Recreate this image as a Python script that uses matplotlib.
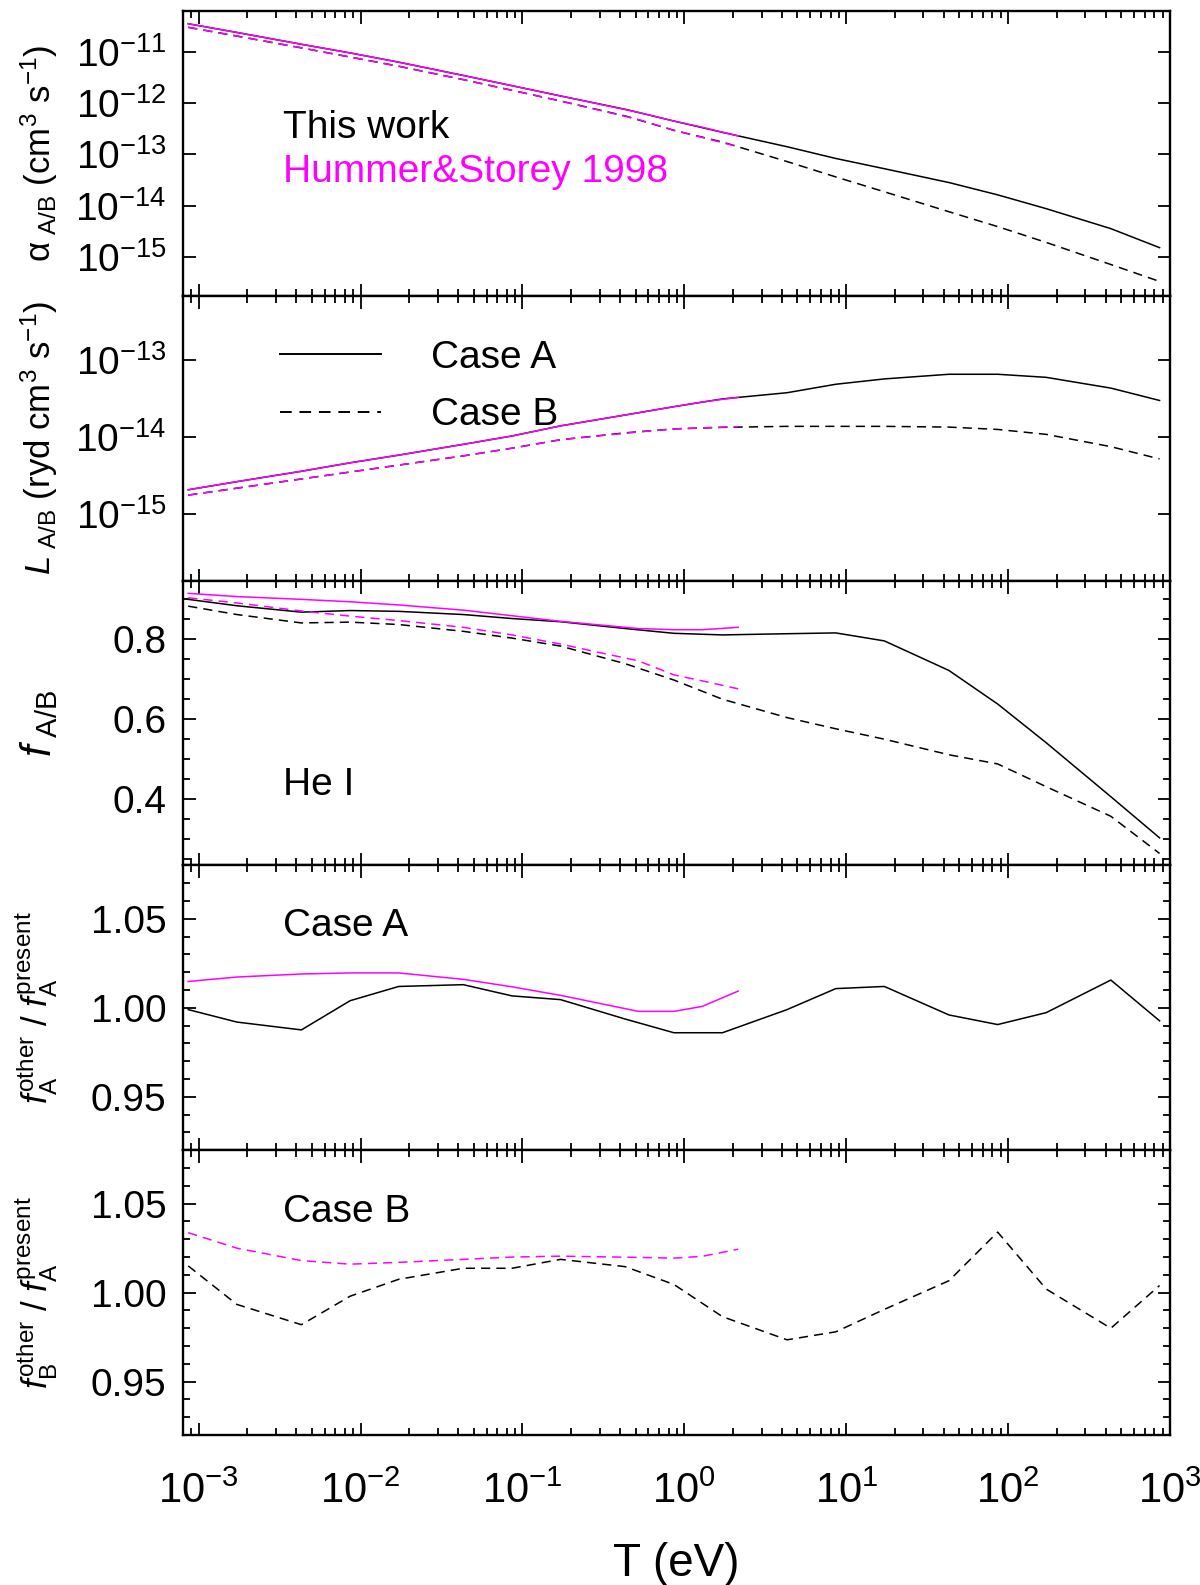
import matplotlib
matplotlib.use('Agg')
import matplotlib.pyplot as plt
from matplotlib.ticker import LogLocator, FixedLocator, MultipleLocator, NullLocator, FormatStrFormatter
from matplotlib.lines import Line2D

plt.rcParams['font.family'] = ['Liberation Sans', 'DejaVu Sans']
plt.rcParams['mathtext.fontset'] = 'custom'
plt.rcParams['mathtext.rm'] = 'Liberation Sans'
plt.rcParams['mathtext.it'] = 'Liberation Sans:italic'
plt.rcParams['mathtext.bf'] = 'Liberation Sans:bold'

# temperature grid (eV), this work: 10 K ... 1e7 K
t_ev = [8.62e-4, 1.72e-3, 4.31e-3, 8.62e-3, 1.72e-2, 4.31e-2, 8.62e-2, 0.172,
        0.431, 0.862, 1.72, 4.31, 8.62, 17.2, 43.1, 86.2, 172, 431, 862]
# Hummer & Storey 1998 grid (eV)
t_hs = [8.62e-4, 1.72e-3, 4.31e-3, 8.62e-3, 1.72e-2, 4.31e-2, 8.62e-2, 0.172,
        0.52, 0.862, 1.29, 2.15]

# recombination coefficients (cm^3 s^-1)
alpha_a = [3.55e-11, 2.40e-11, 1.41e-11, 9.55e-12, 6.31e-12, 3.47e-12, 2.19e-12, 1.38e-12,
           7.59e-13, 4.47e-13, 2.69e-13, 1.41e-13, 8.32e-14, 5.25e-14, 2.82e-14, 1.62e-14,
           8.71e-15, 3.55e-15, 1.51e-15]
alpha_b = [3.02e-11, 2.04e-11, 1.20e-11, 7.94e-12, 5.25e-12, 2.88e-12, 1.78e-12, 1.10e-12,
           5.62e-13, 2.95e-13, 1.74e-13, 7.24e-14, 3.63e-14, 1.86e-14, 7.59e-15, 3.89e-15,
           1.91e-15, 7.08e-16, 3.31e-16]
alpha_a_hs = [3.55e-11, 2.40e-11, 1.41e-11, 9.55e-12, 6.31e-12, 3.47e-12, 2.19e-12, 1.38e-12,
              6.60e-13, 4.47e-13, 3.39e-13, 2.29e-13]
alpha_b_hs = [3.02e-11, 2.04e-11, 1.20e-11, 7.94e-12, 5.25e-12, 2.88e-12, 1.78e-12, 1.10e-12,
              4.80e-13, 2.95e-13, 2.14e-13, 1.41e-13]

# cooling (ryd cm^3 s^-1)
lum_a = [2.04e-15, 2.60e-15, 3.55e-15, 4.57e-15, 5.75e-15, 7.94e-15, 1.02e-14, 1.38e-14,
         1.91e-14, 2.45e-14, 3.09e-14, 3.72e-14, 4.79e-14, 5.62e-14, 6.46e-14, 6.46e-14,
         5.89e-14, 4.27e-14, 2.95e-14]
lum_b = [1.74e-15, 2.14e-15, 2.82e-15, 3.47e-15, 4.27e-15, 5.62e-15, 7.08e-15, 9.12e-15,
         1.12e-14, 1.26e-14, 1.32e-14, 1.36e-14, 1.36e-14, 1.36e-14, 1.33e-14, 1.24e-14,
         1.07e-14, 7.41e-15, 5.13e-15]
lum_a_hs = [2.04e-15, 2.60e-15, 3.55e-15, 4.57e-15, 5.75e-15, 7.94e-15, 1.02e-14, 1.38e-14,
            2.04e-14, 2.45e-14, 2.82e-14, 3.24e-14]
lum_b_hs = [1.74e-15, 2.14e-15, 2.82e-15, 3.47e-15, 4.27e-15, 5.62e-15, 7.08e-15, 9.12e-15,
            1.15e-14, 1.26e-14, 1.30e-14, 1.35e-14]

# f factors
f_a = [0.899, 0.883, 0.867, 0.871, 0.869, 0.861, 0.851, 0.843, 0.826, 0.814, 0.810, 0.813,
       0.815, 0.795, 0.721, 0.637, 0.540, 0.405, 0.302]
f_b = [0.882, 0.861, 0.840, 0.842, 0.836, 0.819, 0.802, 0.782, 0.738, 0.697, 0.649, 0.603,
       0.575, 0.549, 0.510, 0.487, 0.430, 0.356, 0.263]
f_a_hs = [0.914, 0.906, 0.899, 0.893, 0.885, 0.872, 0.858, 0.844, 0.826, 0.823, 0.823, 0.829]
f_b_hs = [0.903, 0.890, 0.870, 0.857, 0.846, 0.829, 0.810, 0.787, 0.745, 0.710, 0.695, 0.675]

# ratios other / present
ratio_a = [0.999, 0.992, 0.9876, 1.004, 1.012, 1.013, 1.0067, 1.0046, 0.9937, 0.986, 0.986,
           0.999, 1.0108, 1.012, 0.996, 0.9906, 0.9973, 1.0156, 0.9927]
ratio_b = [1.015, 0.9934, 0.982, 0.998, 1.0075, 1.0137, 1.0137, 1.0187, 1.0146, 1.0046, 0.9865,
           0.9735, 0.978, 0.9906, 1.0067, 1.034, 1.002, 0.980, 1.004]
ratio_a_hs = [1.0148, 1.0173, 1.019, 1.0196, 1.0196, 1.016, 1.0118, 1.0070, 0.998, 0.998,
              1.0008, 1.0094]
ratio_b_hs = [1.0337, 1.025, 1.018, 1.016, 1.017, 1.0187, 1.020, 1.0205, 1.0198, 1.0194,
              1.0204, 1.0244]

# tick values
x_decades = [1e-3, 1e-2, 1e-1, 1e0, 1e1, 1e2, 1e3]
alpha_ticks = [1e-15, 1e-14, 1e-13, 1e-12, 1e-11]
lum_ticks = [1e-15, 1e-14, 1e-13]
f_ticks = [0.4, 0.6, 0.8]
ratio_ticks = [0.95, 1.00, 1.05]

MAG = '#ff00ff'
DASH = (0, (6, 4))
LW = 1.1

fig, axs = plt.subplots(5, 1, sharex=True, figsize=(12, 15.85), dpi=100)
fig.subplots_adjust(left=0.1525, right=0.975, top=0.9931, bottom=0.0946, hspace=0)

for ax in axs:
    ax.set_xscale('log')
    ax.set_xlim(8e-4, 1e3)
    ax.xaxis.set_major_locator(FixedLocator(x_decades))
    ax.xaxis.set_minor_locator(LogLocator(base=10, subs=range(2, 10), numticks=20))
    ax.tick_params(which='both', direction='in', top=True, right=True, width=1.3,
                   labelsize=28, pad=12, colors='black')
    ax.tick_params(which='major', length=9)
    ax.tick_params(which='minor', length=5)
    for s in ax.spines.values():
        s.set_linewidth(1.7)

# panel 1: recombination coefficients
ax = axs[0]
ax.plot(t_ev, alpha_a, color='black', lw=LW)
ax.plot(t_ev, alpha_b, color='black', lw=LW, ls=DASH)
ax.plot(t_hs, alpha_a_hs, color=MAG, lw=LW)
ax.plot(t_hs, alpha_b_hs, color=MAG, lw=LW, ls=DASH)
ax.set_yscale('log')
ax.set_ylim(10**-15.76, 10**-10.2)
ax.yaxis.set_major_locator(FixedLocator(alpha_ticks))
ax.yaxis.set_minor_locator(NullLocator())
ax.set_ylabel('α$_{\\rm\\ A/B}$ (cm$^3$ s$^{-1}$)', fontsize=25)
ax.text(0.101, 0.553, 'This work', transform=ax.transAxes, fontsize=28, color='black')
ax.text(0.101, 0.400, 'Hummer&Storey 1998', transform=ax.transAxes, fontsize=28, color=MAG)

# panel 2: cooling
ax = axs[1]
ax.plot(t_ev, lum_a, color='black', lw=LW)
ax.plot(t_ev, lum_b, color='black', lw=LW, ls=DASH)
ax.plot(t_hs, lum_a_hs, color=MAG, lw=LW)
ax.plot(t_hs, lum_b_hs, color=MAG, lw=LW, ls=DASH)
ax.set_yscale('log')
ax.set_ylim(10**-15.87, 10**-12.17)
ax.yaxis.set_major_locator(FixedLocator(lum_ticks))
ax.yaxis.set_minor_locator(NullLocator())
ax.set_ylabel(r'$L_{\rm\ A/B}$ (ryd cm$^3$ s$^{-1}$)', fontsize=25)
handles = [Line2D([], [], color='black', lw=1.4),
           Line2D([], [], color='black', lw=1.4, ls=(0, (6, 4)))]
ax.legend(handles, ['Case A', 'Case B'], loc='upper left', bbox_to_anchor=(0.098, 0.845),
          frameon=False, fontsize=28, handlelength=2.6, handletextpad=1.3,
          labelspacing=0.55, borderpad=0, borderaxespad=0)

# panel 3: f factors
ax = axs[2]
ax.plot(t_ev, f_a, color='black', lw=LW)
ax.plot(t_ev, f_b, color='black', lw=LW, ls=DASH)
ax.plot(t_hs, f_a_hs, color=MAG, lw=LW)
ax.plot(t_hs, f_b_hs, color=MAG, lw=LW, ls=DASH)
ax.set_ylim(0.233, 0.946)
ax.yaxis.set_major_locator(FixedLocator(f_ticks))
ax.yaxis.set_minor_locator(MultipleLocator(0.05))
ax.yaxis.set_major_formatter(FormatStrFormatter('%.1f'))
ax.set_ylabel(r'$f_{\rm\ A/B}$', fontsize=30)
ax.text(0.101, 0.246, 'He I', transform=ax.transAxes, fontsize=28)

# panel 4: case A ratio
ax = axs[3]
ax.plot(t_ev, ratio_a, color='black', lw=LW)
ax.plot(t_hs, ratio_a_hs, color=MAG, lw=LW)
ax.set_ylim(0.92, 1.08)
ax.yaxis.set_major_locator(FixedLocator(ratio_ticks))
ax.yaxis.set_minor_locator(MultipleLocator(0.01))
ax.yaxis.set_major_formatter(FormatStrFormatter('%.2f'))
ax.set_ylabel(r'$f_{\rm A}^{\rm other}\ /\ f_{\rm A}^{\rm present}$', fontsize=25)
ax.text(0.101, 0.753, 'Case A', transform=ax.transAxes, fontsize=28)

# panel 5: case B ratio
ax = axs[4]
ax.plot(t_ev, ratio_b, color='black', lw=LW, ls=DASH)
ax.plot(t_hs, ratio_b_hs, color=MAG, lw=LW, ls=DASH)
ax.set_ylim(0.92, 1.08)
ax.yaxis.set_major_locator(FixedLocator(ratio_ticks))
ax.yaxis.set_minor_locator(MultipleLocator(0.01))
ax.yaxis.set_major_formatter(FormatStrFormatter('%.2f'))
ax.set_ylabel(r'$f_{\rm B}^{\rm other}\ /\ f_{\rm A}^{\rm present}$', fontsize=25)
ax.text(0.101, 0.747, 'Case B', transform=ax.transAxes, fontsize=28)
ax.tick_params(axis='x', which='both', labelsize=30, pad=26)
ax.set_xlabel('T (eV)', fontsize=33, labelpad=22)

for ax in axs:
    ax.yaxis.set_label_coords(-0.125, 0.5)

fig.savefig('out.png', dpi=100)
